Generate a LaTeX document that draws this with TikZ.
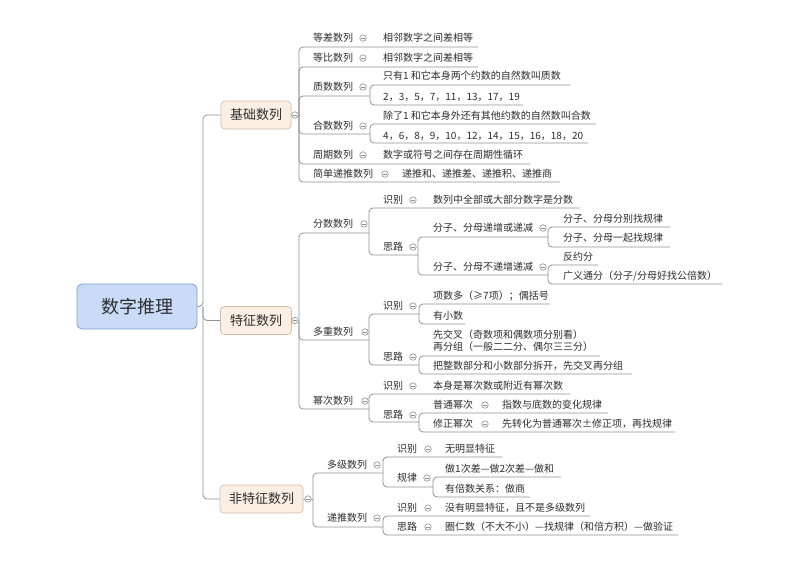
\documentclass[tikz,border=0pt]{standalone}
\usepackage{fontspec}
\newfontfamily\cjk{Noto Sans CJK SC}
\usetikzlibrary{backgrounds}
\definecolor{lc}{HTML}{929292}
\definecolor{tc}{HTML}{2E2E2E}
\definecolor{cc}{HTML}{909090}
\definecolor{rootfill}{HTML}{C9DBF7}
\definecolor{rootdraw}{HTML}{7E9CCF}
\definecolor{lonefill}{HTML}{FBEFE4}
\definecolor{lonedraw}{HTML}{D6BCA8}
\tikzset{
  ln/.style={draw=lc, line width=0.8pt, rounded corners=4pt},
  tx/.style={anchor=west, inner sep=0pt, text=tc, font=\cjk\fontsize{10}{12}\selectfont},
  col/.style={circle, draw=cc, fill=white, inner sep=0pt, minimum size=6.5pt, line width=0.6pt,
    path picture={\draw[cc, line width=0.6pt] ([xshift=-1.7pt]path picture bounding box.center) -- ([xshift=1.7pt]path picture bounding box.center);}},
  rootbox/.style={draw=rootdraw, fill=rootfill, line width=0.8pt, rounded corners=5pt,
    minimum width=120pt, minimum height=45pt, text=tc, font=\cjk\fontsize{18}{20}\selectfont},
  lonebox/.style={draw=lonedraw, fill=lonefill, line width=0.7pt, rounded corners=4pt,
    minimum height=28pt, inner xsep=6pt, text=tc, font=\cjk\fontsize{13}{15}\selectfont},
}
\begin{document}
\begin{tikzpicture}[x=1pt,y=-1pt]
\useasboundingbox (0,0) rectangle (800,566);

% ---------- root and level 1 ----------
\node[rootbox] (R) at (137,306.5) {数字推理};
\node[lonebox, minimum width=70pt] (J) at (256,115) {基础数列};
\node[lonebox, minimum width=71pt] (T) at (256,320.5) {特征数列};
\node[lonebox, minimum width=83pt] (F) at (261.5,499) {非特征数列};
\node[col] (Jc) at (295,115) {};
\node[col] (Tc) at (295,320.5) {};
\node[col] (Fc) at (308,499) {};
\coordinate (Rb) at (203,306.5);
\coordinate (Jb) at (299,115);
\coordinate (Tb) at (299,320.5);
\coordinate (Fb) at (313,499);

% ---------- 基础数列 ----------
\node[tx] (a1) at (313,38) {等差数列}; \node[col] (a1c) at (363,38) {};
\node[tx] (a1x) at (383,38) {相邻数字之间差相等}; \coordinate (a1xe) at (478,47);
\node[tx] (a2) at (313,58) {等比数列}; \node[col] (a2c) at (363,58) {};
\node[tx] (a2x) at (383,58) {相邻数字之间差相等}; \coordinate (a2xe) at (478,67);
\node[tx] (a3) at (313,87) {质数数列}; \node[col] (a3c) at (363,87) {}; \coordinate (a3b) at (370,96);
\node[tx] (a3x1) at (383,76) {只有1 和它本身两个约数的自然数叫质数}; \coordinate (a3x1e) at (570,85);
\node[tx] (a3x2) at (383,97) {2，3，5，7，11，13，17，19}; \coordinate (a3x2e) at (523,105);
\node[tx] (a4) at (313,126) {合数数列}; \node[col] (a4c) at (363,126) {}; \coordinate (a4b) at (370,134);
\node[tx] (a4x1) at (383,116) {除了1 和它本身外还有其他约数的自然数叫合数}; \coordinate (a4x1e) at (596,124);
\node[tx] (a4x2) at (383,136) {4，6，8，9，10，12，14，15，16，18，20}; \coordinate (a4x2e) at (588,143);
\node[tx] (a5) at (313,155) {周期数列}; \node[col] (a5c) at (363,155) {};
\node[tx] (a5x) at (383,155) {数字或符号之间存在周期性循环}; \coordinate (a5xe) at (530,164);
\node[tx] (a6) at (313,174) {简单递推数列}; \node[col] (a6c) at (385,174) {};
\node[tx] (a6x) at (402,174) {递推和、递推差、递推积、递推商}; \coordinate (a6xe) at (560,182);

% ---------- 特征数列 ----------
\node[tx] (b1) at (313,224) {分数数列}; \node[col] (b1c) at (364,224) {}; \coordinate (b1b) at (369,233);
\node[tx] (b1i) at (383,200) {识别}; \node[col] (b1ic) at (413,200) {};
\node[tx] (b1ix) at (433,200) {数列中全部或大部分数字是分数}; \coordinate (b1ixe) at (580,208);
\node[tx] (b1s) at (383,247) {思路}; \node[col] (b1sc) at (413,247) {}; \coordinate (b1sb) at (418,255);
\node[tx] (b1s1) at (433,228) {分子、分母递增或递减}; \node[col] (b1s1c) at (543,228) {}; \coordinate (b1s1b) at (548,237);
\node[tx] (b1s1x1) at (563,219) {分子、分母分别找规律}; \coordinate (b1s1x1e) at (670,227);
\node[tx] (b1s1x2) at (563,238) {分子、分母一起找规律}; \coordinate (b1s1x2e) at (670,247);
\node[tx] (b1s2) at (433,267) {分子、分母不递增递减}; \node[col] (b1s2c) at (543,267) {}; \coordinate (b1s2b) at (548,275);
\node[tx] (b1s2x1) at (563,257) {反约分}; \coordinate (b1s2x1e) at (598,265);
\node[tx] (b1s2x2) at (563,276) {广义通分（分子/分母好找公倍数）}; \coordinate (b1s2x2e) at (722,284);

\node[tx] (b2) at (313,332) {多重数列}; \node[col] (b2c) at (365,332) {}; \coordinate (b2b) at (369,340);
\node[tx] (b2i) at (383,306) {识别}; \node[col] (b2ic) at (413,306) {}; \coordinate (b2ib) at (419,314);
\node[tx] (b2ix1) at (433,296) {项数多（≥7项）；偶括号}; \coordinate (b2ix1e) at (550,304);
\node[tx] (b2ix2) at (433,316) {有小数}; \coordinate (b2ix2e) at (465,324);
\node[tx] (b2s) at (383,357) {思路}; \node[col] (b2sc) at (413,357) {}; \coordinate (b2sb) at (419,365);
\node[tx, align=left] (b2sx1) at (433,341) {先交叉（奇数项和偶数项分别看）\\再分组（一般二二分、偶尔三三分）}; \coordinate (b2sx1e) at (600,356);
\node[tx] (b2sx2) at (433,366) {把整数部分和小数部分拆开，先交叉再分组}; \coordinate (b2sx2e) at (632,374);

\node[tx] (b3) at (313,401) {幂次数列}; \node[col] (b3c) at (365,401) {}; \coordinate (b3b) at (369,409);
\node[tx] (b3i) at (383,386) {识别}; \node[col] (b3ic) at (413,386) {};
\node[tx] (b3ix) at (433,386) {本身是幂次数或附近有幂次数}; \coordinate (b3ixe) at (570,394);
\node[tx] (b3s) at (383,415) {思路}; \node[col] (b3sc) at (413,415) {}; \coordinate (b3sb) at (419,422);
\node[tx] (b3s1) at (433,405) {普通幂次}; \node[col] (b3s1c) at (485,405) {};
\node[tx] (b3s1x) at (502,405) {指数与底数的变化规律}; \coordinate (b3s1xe) at (608,413);
\node[tx] (b3s2) at (433,424) {修正幂次}; \node[col] (b3s2c) at (485,424) {};
\node[tx] (b3s2x) at (502,424) {先转化为普通幂次±修正项，再找规律}; \coordinate (b3s2xe) at (675,432);

% ---------- 非特征数列 ----------
\node[tx] (c1) at (327,465) {多级数列}; \node[col] (c1c) at (377,465) {}; \coordinate (c1b) at (383,473);
\node[tx] (c1i) at (397,449) {识别}; \node[col] (c1ic) at (428,449) {};
\node[tx] (c1ix) at (445,449) {无明显特征}; \coordinate (c1ixe) at (502,457);
\node[tx] (c1g) at (397,478) {规律}; \node[col] (c1gc) at (427,478) {}; \coordinate (c1gb) at (433,487);
\node[tx] (c1gx1) at (445,469) {做1次差—做2次差—做和}; \coordinate (c1gx1e) at (561,477);
\node[tx] (c1gx2) at (445,489) {有倍数关系：做商}; \coordinate (c1gx2e) at (530,497);
\node[tx] (c2) at (327,518) {递推数列}; \node[col] (c2c) at (377,518) {}; \coordinate (c2b) at (383,527);
\node[tx] (c2i) at (397,508) {识别}; \node[col] (c2ic) at (428,508) {};
\node[tx] (c2ix) at (445,508) {没有明显特征，且不是多级数列}; \coordinate (c2ixe) at (590,516);
\node[tx] (c2s) at (397,527) {思路}; \node[col] (c2sc) at (428,527) {};
\node[tx] (c2sx) at (445,527) {圈仁数（不大不小）—找规律（和倍方积）—做验证}; \coordinate (c2sxe) at (678,535);

% ---------- connectors ----------
\begin{scope}[on background layer]
\fill[white] (0,0) rectangle (800,566);
\draw[ln] (R.east) -- (Rb) |- (J.west);
\draw[ln] (Rb) |- (T.west);
\draw[ln] (Rb) |- (F.west);
\draw[ln] (J.east) -- (Jb);
\draw[ln] (T.east) -- (Tb);
\draw[ln] (F.east) -- (Fb);
% 基础数列
\draw[ln] (Jb) |- (a1xe);
\draw[ln] (Jb) |- (a2xe);
\draw[ln] (Jb) |- (a3b);
\draw[ln] (a3b) |- (a3x1e);
\draw[ln] (a3b) |- (a3x2e);
\draw[ln] (Jb) |- (a4b);
\draw[ln] (a4b) |- (a4x1e);
\draw[ln] (a4b) |- (a4x2e);
\draw[ln] (Jb) |- (a5xe);
\draw[ln] (Jb) |- (a6xe);
% 特征数列
\draw[ln] (Tb) |- (b1b);
\draw[ln] (b1b) |- (b1ixe);
\draw[ln] (b1b) |- (b1sb);
\draw[ln] (b1sb) |- (b1s1b);
\draw[ln] (b1s1b) |- (b1s1x1e);
\draw[ln] (b1s1b) |- (b1s1x2e);
\draw[ln] (b1sb) |- (b1s2b);
\draw[ln] (b1s2b) |- (b1s2x1e);
\draw[ln] (b1s2b) |- (b1s2x2e);
\draw[ln] (Tb) |- (b2b);
\draw[ln] (b2b) |- (b2ib);
\draw[ln] (b2ib) |- (b2ix1e);
\draw[ln] (b2ib) |- (b2ix2e);
\draw[ln] (b2b) |- (b2sb);
\draw[ln] (b2sb) |- (b2sx1e);
\draw[ln] (b2sb) |- (b2sx2e);
\draw[ln] (Tb) |- (b3b);
\draw[ln] (b3b) |- (b3ixe);
\draw[ln] (b3b) |- (b3sb);
\draw[ln] (b3sb) |- (b3s1xe);
\draw[ln] (b3sb) |- (b3s2xe);
% 非特征数列
\draw[ln] (Fb) |- (c1b);
\draw[ln] (c1b) |- (c1ixe);
\draw[ln] (c1b) |- (c1gb);
\draw[ln] (c1gb) |- (c1gx1e);
\draw[ln] (c1gb) |- (c1gx2e);
\draw[ln] (Fb) |- (c2b);
\draw[ln] (c2b) |- (c2ixe);
\draw[ln] (c2b) |- (c2sxe);
\end{scope}
\end{tikzpicture}
\end{document}
